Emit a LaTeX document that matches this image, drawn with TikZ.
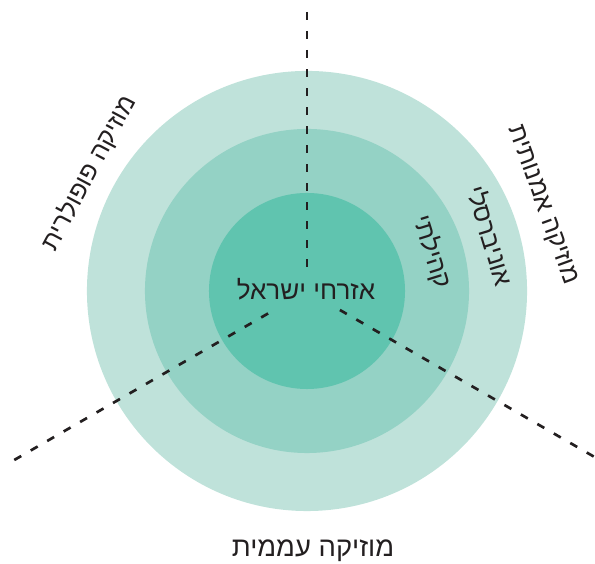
\documentclass[tikz,border=0pt]{standalone}
\usepackage{fontspec}
\usepackage{xcolor}
\usetikzlibrary{calc}
\TeXXeTstate=1
\newfontfamily\hebfont[Script=Hebrew]{Liberation Sans}
\definecolor{ringout}{HTML}{BFE2DA}
\definecolor{ringmid}{HTML}{94D2C5}
\definecolor{ringin}{HTML}{60C4AF}
\definecolor{inkdark}{HTML}{231F20}
\tikzset{
  ring/.style={circle,draw=none,inner sep=0pt,outer sep=0pt},
  hebtext/.style={font=\hebfont\fontsize{18}{21}\selectfont,text=inkdark,inner sep=1pt},
  divider/.style={draw=inkdark,line width=1.9pt,dash pattern=on 0.2cm off 0.275cm}
}
\newcommand{\heb}[1]{\beginR #1\endR}

\begin{document}
\begin{tikzpicture}[x=0.025cm,y=0.025cm]
  \useasboundingbox (0,0) rectangle (595,564);
  \coordinate (c) at (307,273);

  % rings
  \node[ring,fill=ringout,minimum size=11cm] (outer) at (c) {};
  \node[ring,fill=ringmid,minimum size=8.1cm] (middle) at (c) {};
  \node[ring,fill=ringin,minimum size=4.9cm] (inner) at (c) {};

  % dividers
  \coordinate (topend) at ($(c)+(90:279)$);
  \coordinate (leftend) at ($(c)+(210:338)$);
  \coordinate (rightend) at ($(c)+(330:331)$);
  \draw[divider] (topend) -- ($(c)+(90:23)$);
  \draw[divider] (leftend) -- ($(c)+(210:39)$);
  \draw[divider] (rightend) -- ($(c)+(330:38)$);

  % labels
  \node[hebtext,font=\hebfont\fontsize{18.5}{21}\selectfont] (citizens) at (306,275) {\heb{אזרחי ישראל}};
  \node[hebtext,rotate=-72.7] (community) at (432,312) {\heb{קהילתי}};
  \node[hebtext,rotate=-73] (universal) at (491,328) {\heb{אוניברסלי}};
  \node[hebtext,rotate=-70] (art) at (542,359) {\heb{מוזיקה אמנותית}};
  \node[hebtext,rotate=62] (popular) at (89,391) {\heb{מוזיקה פופולרית}};
  \node[hebtext,font=\hebfont\fontsize{19.5}{22}\selectfont] (folk) at (313,13) {\heb{מוזיקה עממית}};
\end{tikzpicture}
\end{document}
